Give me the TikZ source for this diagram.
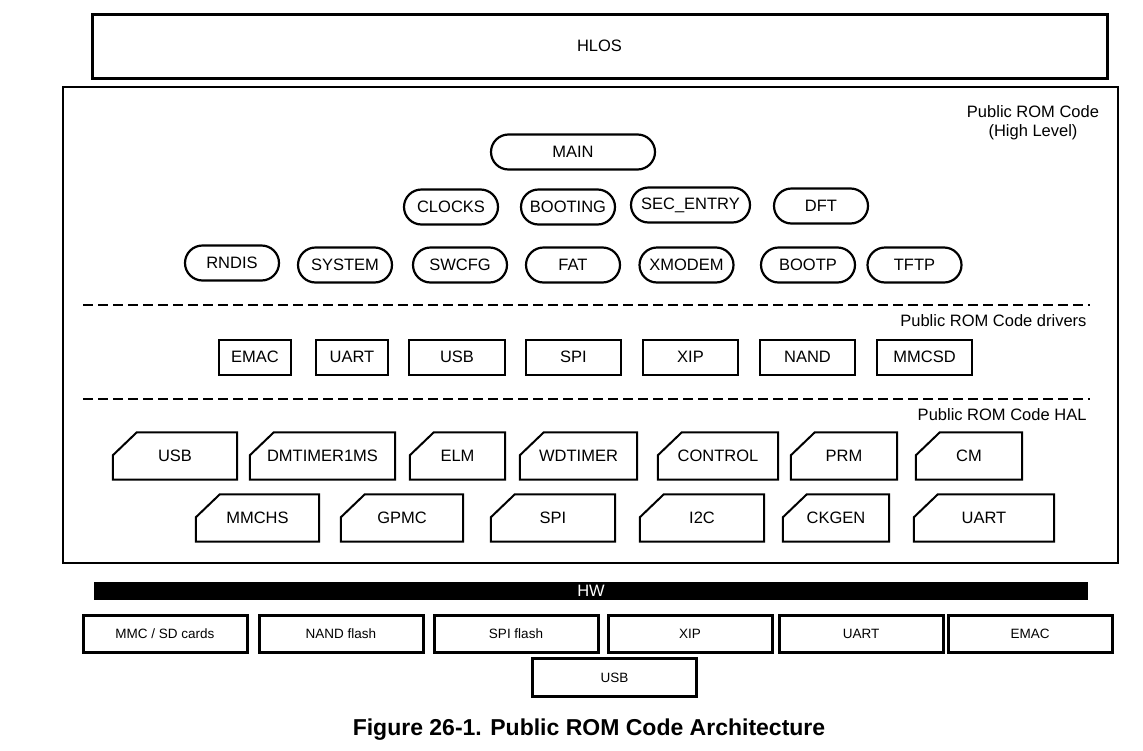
\documentclass[tikz,border=0pt]{standalone}
\usepackage{fontspec}
\setmainfont{Liberation Sans}
\usepackage{tikz}
\usepackage{xcolor}
\usetikzlibrary{positioning, shapes.misc}
\definecolor{romblack}{RGB}{0, 0, 0}
\tikzset{
    romtext/.style={font=\fontsize{16.5}{19}\selectfont},
    hlnode/.style={rounded rectangle, draw=romblack, line width=2.2pt, inner sep=0pt, minimum width=94pt, minimum height=35pt, romtext},
    drvnode/.style={rectangle, draw=romblack, line width=2pt, inner sep=0pt, minimum width=95pt, minimum height=35pt, romtext},
    halnode/.style={rectangle, inner sep=0pt, minimum height=47pt, romtext},
    halline/.style={draw=romblack, line width=2pt, line join=miter},
    hwnode/.style={rectangle, draw=romblack, line width=3pt, inner sep=0pt, minimum width=164pt, minimum height=37pt, font=\fontsize{13.5}{16}\selectfont},
    layerline/.style={dash pattern=on 10pt off 5pt, line width=1.8pt}
}
\begin{document}
\begin{tikzpicture}[x=1pt, y=-1pt]
    \useasboundingbox (0,0) rectangle (1143,750);
    % top layer and ROM frame
    \node[draw=romblack, line width=3pt, minimum width=1015pt, minimum height=64pt, romtext] (hlos) at (599.5,46) {HLOS};
    \node[draw=romblack, line width=2.5pt, minimum width=1055pt, minimum height=476pt] (rom) at (590.5,325) {};
    \node[romtext, align=center] (highlabel) at (1033,123) {Public ROM Code\\(High Level)};
    % high level
    \node[hlnode, minimum width=164pt] (main) at (573,152) {MAIN};
    \node[hlnode] (clocks) at (451,207) {CLOCKS};
    \node[hlnode] (booting) at (568,207) {BOOTING};
    \node[hlnode, minimum width=119pt] (secentry) at (690.5,205) {SEC\_ENTRY};
    \node[hlnode] (dft) at (821,206) {DFT};
    \node[hlnode] (rndis) at (232,263) {RNDIS};
    \node[hlnode] (system) at (345,265) {SYSTEM};
    \node[hlnode] (swcfg) at (460,265) {SWCFG};
    \node[hlnode] (fat) at (573,265) {FAT};
    \node[hlnode] (xmodem) at (686.5,265) {XMODEM};
    \node[hlnode] (bootp) at (808,265) {BOOTP};
    \node[hlnode] (tftp) at (914.5,265) {TFTP};
    % drivers
    \coordinate (drvl) at (83,305);
    \coordinate (drvr) at (1090,305);
    \draw[layerline] (drvl) -- (drvr);
    \node[romtext, anchor=east] (drvlabel) at (1090,321) {Public ROM Code drivers};
    \node[drvnode, minimum width=72pt] (emac) at (255,357) {EMAC};
    \node[drvnode, minimum width=72pt] (uart) at (352,357) {UART};
    \node[drvnode, minimum width=96pt] (usb) at (457,357) {USB};
    \node[drvnode] (spi) at (573.5,357) {SPI};
    \node[drvnode] (xip) at (690.5,357) {XIP};
    \node[drvnode] (nand) at (807.5,357) {NAND};
    \node[drvnode] (mmcsd) at (924.5,357) {MMCSD};
    % HAL
    \coordinate (hall) at (83,399);
    \coordinate (halr) at (1090,399);
    \draw[layerline] (hall) -- (halr);
    \node[romtext, anchor=east] (hallabel) at (1090,415) {Public ROM Code HAL};
    \node[halnode, minimum width=124pt] (halusb) at (175,456) {USB};
    \node[halnode, minimum width=145pt] (haldmtimer) at (322.5,456) {DMTIMER1MS};
    \node[halnode, minimum width=95pt] (halelm) at (457.5,456) {ELM};
    \node[halnode, minimum width=117pt] (halwdtimer) at (578.5,456) {WDTIMER};
    \node[halnode, minimum width=120pt] (halcontrol) at (718,456) {CONTROL};
    \node[halnode, minimum width=106pt] (halprm) at (844,456) {PRM};
    \node[halnode, minimum width=106pt] (halcm) at (969,456) {CM};
    \node[halnode, minimum width=123pt] (halmmchs) at (257.5,518) {MMCHS};
    \node[halnode, minimum width=122pt] (halgpmc) at (402,518) {GPMC};
    \node[halnode, minimum width=124pt] (halspi) at (553,518) {SPI};
    \node[halnode, minimum width=124pt] (hali2c) at (702,518) {I2C};
    \node[halnode, minimum width=106pt] (halckgen) at (836,518) {CKGEN};
    \node[halnode, minimum width=140pt] (haluart) at (984,518) {UART};
    % cut corner outline of each HAL block
    \foreach \n in {halusb, haldmtimer, halelm, halwdtimer, halcontrol, halprm, halcm,
                    halmmchs, halgpmc, halspi, hali2c, halckgen, haluart}
        \draw[halline] ([yshift=-23pt]\n.north west) -- ([xshift=24pt]\n.north west) -- (\n.north east)
            -- (\n.south east) -- (\n.south west) -- cycle;
    % hardware
    \node[fill=romblack, text=white, inner sep=0pt, minimum width=994pt, minimum height=18pt, romtext] (hw) at (591,591) {HW};
    \node[hwnode] (hwmmc) at (165,633.5) {MMC / SD cards};
    \node[hwnode] (hwnand) at (341,633.5) {NAND flash};
    \node[hwnode] (hwspi) at (516,633.5) {SPI flash};
    \node[hwnode] (hwxip) at (690,633.5) {XIP};
    \node[hwnode] (hwuart) at (861,633.5) {UART};
    \node[hwnode] (hwemac) at (1030,633.5) {EMAC};
    \node[hwnode, minimum height=38pt] (hwusb) at (614.5,677.5) {USB};
    % caption
    \node[font=\fontsize{23}{26}\selectfont\bfseries] (caption) at (589,730) {Figure 26-1. Public ROM Code Architecture};
\end{tikzpicture}
\end{document}
